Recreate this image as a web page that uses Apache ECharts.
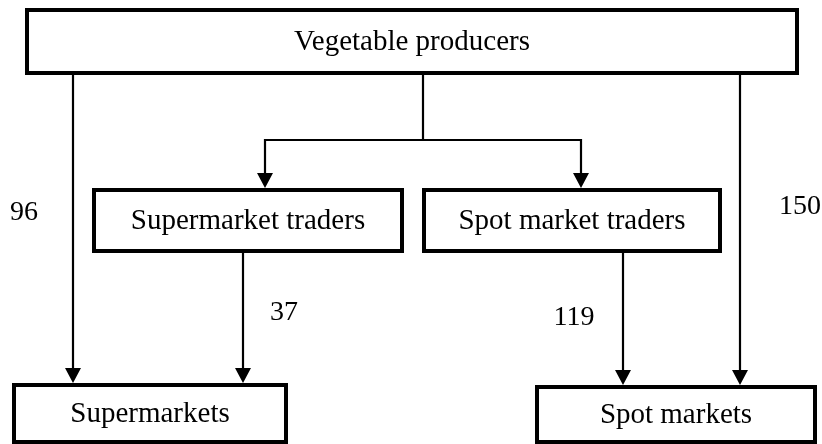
<!DOCTYPE html>
<html>
<head>
<meta charset="utf-8">
<script src="https://cdn.jsdelivr.net/npm/echarts@6/dist/echarts.min.js"></script>
<style>
html,body{margin:0;padding:0;background:#fff;}
#chart{width:822px;height:444px;}
</style>
</head>
<body>
<div id="chart"></div>
<script>
// ---- data ----
const nodeNames = ['Vegetable producers', 'Supermarket traders', 'Spot market traders', 'Supermarkets', 'Spot markets'];
const flowFrom = ['Vegetable producers', 'Supermarket traders', 'Spot market traders', 'Vegetable producers', 'Vegetable producers', 'Vegetable producers'];
const flowTo = ['Supermarkets', 'Supermarkets', 'Spot markets', 'Spot markets', 'Supermarket traders', 'Spot market traders'];
const flowValues = [96, 37, 119, 150, null, null];

// ---- layout (diagram coordinates, pixels) ----
const boxLayout = {
  'Vegetable producers': [27, 10, 797, 73],
  'Supermarket traders': [94, 190, 402, 251],
  'Spot market traders': [424, 190, 720, 251],
  'Supermarkets': [14, 385, 286, 442],
  'Spot markets': [537, 387, 815, 442]
};
const pathLayout = [
  [[73, 75], [73, 383]],
  [[243, 253], [243, 383]],
  [[623, 253], [623, 385]],
  [[740, 75], [740, 385]],
  [[423, 75], [423, 140], [265, 140], [265, 188]],
  [[423, 140], [581, 140], [581, 188]]
];
const labelLayout = [[24, 213], [284, 313], [574, 318], [800, 207], null, null];

const W = 822, H = 444;
const FONT = '"Liberation Serif", "Times New Roman", serif';

const boxData = nodeNames.map(n => boxLayout[n].concat([n]));
const flowData = flowValues.map((v, i) => ({ value: [i, v], path: pathLayout[i], label: labelLayout[i] }));

const chart = echarts.init(document.getElementById('chart'));
chart.setOption({
  animation: false,
  backgroundColor: '#fff',
  grid: { left: 0, right: 0, top: 0, bottom: 0 },
  xAxis: { type: 'value', min: 0, max: W, show: false },
  yAxis: { type: 'value', min: 0, max: H, inverse: true, show: false },
  series: [
    {
      type: 'custom',
      coordinateSystem: 'cartesian2d',
      data: boxData,
      renderItem: function (params, api) {
        const p1 = api.coord([api.value(0), api.value(1)]);
        const p2 = api.coord([api.value(2), api.value(3)]);
        const name = boxData[params.dataIndex][4];
        return {
          type: 'group',
          children: [
            {
              type: 'rect',
              shape: { x: p1[0], y: p1[1], width: p2[0] - p1[0], height: p2[1] - p1[1] },
              style: { fill: '#fff', stroke: '#000', lineWidth: 4 }
            },
            {
              type: 'text',
              style: {
                x: (p1[0] + p2[0]) / 2, y: (p1[1] + p2[1]) / 2 + 1,
                text: name, fill: '#000', font: '29px ' + FONT,
                align: 'center', verticalAlign: 'middle'
              }
            }
          ]
        };
      }
    },
    {
      type: 'custom',
      coordinateSystem: 'cartesian2d',
      data: flowData,
      renderItem: function (params, api) {
        const item = flowData[params.dataIndex];
        const pts = item.path.map(p => api.coord(p));
        const end = pts[pts.length - 1];
        const children = [
          {
            type: 'polyline',
            shape: { points: pts.slice(0, -1).concat([[end[0], end[1] - 10]]) },
            style: { stroke: '#000', lineWidth: 2.2, fill: null }
          },
          {
            type: 'polygon',
            shape: { points: [[end[0] - 8, end[1] - 15], [end[0] + 8, end[1] - 15], [end[0], end[1]]] },
            style: { fill: '#000' }
          }
        ];
        const v = api.value(1);
        if (item.label && !isNaN(v)) {
          const lp = api.coord(item.label);
          children.push({
            type: 'text',
            style: {
              x: lp[0], y: lp[1], text: String(v), fill: '#000',
              font: '28px ' + FONT, align: 'center', verticalAlign: 'middle'
            }
          });
        }
        return { type: 'group', children: children };
      }
    }
  ]
});
</script>
</body>
</html>
